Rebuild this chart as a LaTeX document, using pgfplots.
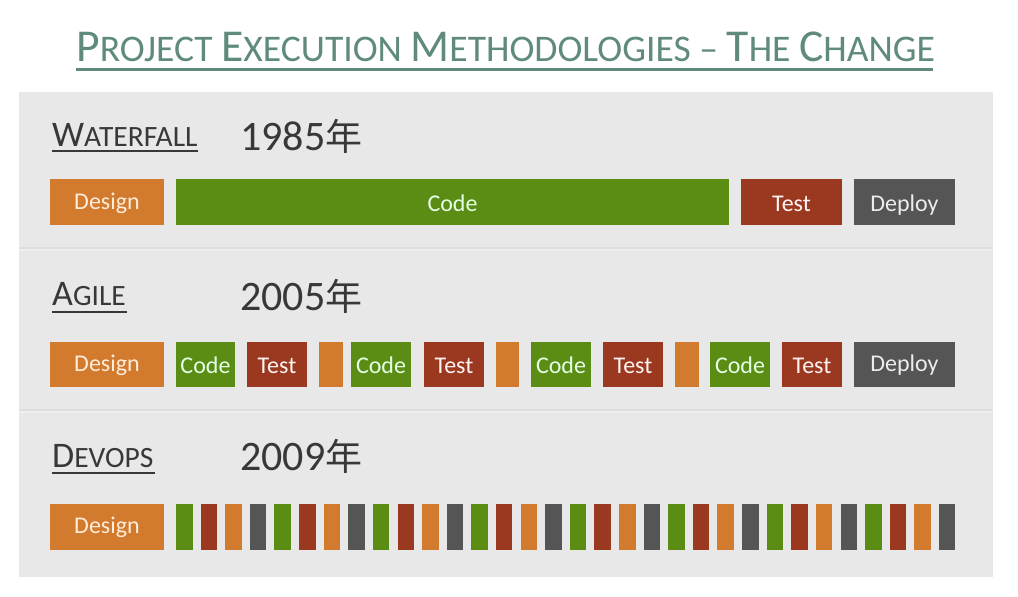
\documentclass[border=0pt]{standalone}
\usepackage{pgfplots}
\pgfplotsset{compat=1.18}
\usepackage{fontspec}
\setmainfont{Carlito}
\newfontfamily\cjk{Noto Sans CJK SC}
\definecolor{cO}{HTML}{D27A2E}
\definecolor{cG}{HTML}{5B8C14}
\definecolor{cR}{HTML}{9B3920}
\definecolor{cK}{HTML}{555555}
\definecolor{panel}{HTML}{E8E8E8}
\definecolor{sep}{HTML}{DEDEDE}
\definecolor{sepl}{HTML}{EEEEEE}
\definecolor{ttl}{HTML}{5F8A7D}
\definecolor{hd}{HTML}{383838}
\newcommand\fs[1]{\fontsize{#1bp}{#1bp}\selectfont}
\newcommand\bx[5]{\addplot[fill=#5, draw=none, forget plot] coordinates {(#1,#3) (#2,#3) (#2,#4) (#1,#4)} -- cycle;}
\newcommand\hl[5]{\addplot[draw=#5, line width=#4bp, forget plot] coordinates {(#1,#3) (#2,#3)};}
% fake small caps
\newcommand\tsc[2]{{\fs{45.6}#1}{\fs{37.6}#2}}
\newcommand\hsc[2]{{\fs{36}#1}{\fs{29.5}#2}}
\begin{document}
\begin{tikzpicture}
\begin{axis}[width=1018bp, height=596bp, scale only axis, xmin=0, xmax=1018, ymin=0, ymax=596, y dir=reverse, hide axis, clip=false]
\path[use as bounding box] (rel axis cs:0,0) rectangle (rel axis cs:1,1);
% panels
\bx{19}{993}{92}{577}{panel}
\bx{19}{993}{246.5}{248.5}{sep}
\bx{19}{993}{248.5}{250.5}{sepl}
\bx{19}{993}{408.5}{410.5}{sep}
\bx{19}{993}{410.5}{412.5}{sepl}
% title
\node[anchor=base west, inner sep=0pt, text=ttl] at (axis cs:76,62) {\fs{37.6}\tsc{P}{ROJECT}\ \tsc{E}{XECUTION}\ \tsc{M}{ETHODOLOGIES}\ –\ \tsc{T}{HE}\ \tsc{C}{HANGE}};
\hl{76}{933}{70}{3}{ttl}
% section headings
\node[anchor=base west, inner sep=0pt, text=hd] at (axis cs:52,146) {\hsc{W}{ATERFALL}};
\hl{52}{198}{151}{2.5}{hd}
\node[anchor=base west, inner sep=0pt, text=hd] at (axis cs:52,305) {\hsc{A}{GILE}};
\hl{52}{127}{312}{2.5}{hd}
\node[anchor=base west, inner sep=0pt, text=hd] at (axis cs:52,467) {\hsc{D}{EVOPS}};
\hl{52}{155}{473}{2.5}{hd}
\node[anchor=base west, inner sep=0pt, text=hd] at (axis cs:240,150) {\fs{42}1985{\cjk\fs{37}年}};
\node[anchor=base west, inner sep=0pt, text=hd] at (axis cs:240,310) {\fs{42}2005{\cjk\fs{37}年}};
\node[anchor=base west, inner sep=0pt, text=hd] at (axis cs:240,470) {\fs{42}2009{\cjk\fs{37}年}};
% Waterfall
\bx{50}{164}{179}{225}{cO}
\bx{176}{729}{179}{225}{cG}
\bx{741}{842}{179}{225}{cR}
\bx{854}{955}{179}{225}{cK}
% Agile
\bx{50}{164}{342}{387}{cO}
\bx{176}{235}{342}{387}{cG}
\bx{247}{307}{342}{387}{cR}
\bx{319}{343}{342}{387}{cO}
\bx{351}{411}{342}{387}{cG}
\bx{424}{484}{342}{387}{cR}
\bx{496}{519}{342}{387}{cO}
\bx{531}{591}{342}{387}{cG}
\bx{603}{663}{342}{387}{cR}
\bx{675}{699}{342}{387}{cO}
\bx{710}{770}{342}{387}{cG}
\bx{782}{842}{342}{387}{cR}
\bx{854}{955}{342}{387}{cK}
% DevOps
\bx{50}{164}{504}{550}{cO}
\bx{176.0}{192.5}{504}{550}{cG}
\bx{200.6}{217.1}{504}{550}{cR}
\bx{225.2}{241.7}{504}{550}{cO}
\bx{249.8}{266.3}{504}{550}{cK}
\bx{274.4}{290.9}{504}{550}{cG}
\bx{299.1}{315.6}{504}{550}{cR}
\bx{323.7}{340.2}{504}{550}{cO}
\bx{348.3}{364.8}{504}{550}{cK}
\bx{372.9}{389.4}{504}{550}{cG}
\bx{397.5}{414.0}{504}{550}{cR}
\bx{422.1}{438.6}{504}{550}{cO}
\bx{446.7}{463.2}{504}{550}{cK}
\bx{471.3}{487.8}{504}{550}{cG}
\bx{495.9}{512.4}{504}{550}{cR}
\bx{520.5}{537.0}{504}{550}{cO}
\bx{545.2}{561.7}{504}{550}{cK}
\bx{569.8}{586.3}{504}{550}{cG}
\bx{594.4}{610.9}{504}{550}{cR}
\bx{619.0}{635.5}{504}{550}{cO}
\bx{643.6}{660.1}{504}{550}{cK}
\bx{668.2}{684.7}{504}{550}{cG}
\bx{692.8}{709.3}{504}{550}{cR}
\bx{717.4}{733.9}{504}{550}{cO}
\bx{742.0}{758.5}{504}{550}{cK}
\bx{766.6}{783.1}{504}{550}{cG}
\bx{791.3}{807.8}{504}{550}{cR}
\bx{815.9}{832.4}{504}{550}{cO}
\bx{840.5}{857.0}{504}{550}{cK}
\bx{865.1}{881.6}{504}{550}{cG}
\bx{889.7}{906.2}{504}{550}{cR}
\bx{914.3}{930.8}{504}{550}{cO}
\bx{938.9}{955.4}{504}{550}{cK}
% bar labels
\def\lab#1#2#3#4{\node[anchor=base, inner sep=0pt, text=#4] at (axis cs:#1,#2) {\fs{24}#3};}
\lab{107}{209}{Design}{orange!15!white}
\lab{452.5}{211}{Code}{green!10!white}
\lab{791.5}{211}{Test}{red!5!white}
\lab{904.5}{211}{Deploy}{gray!15!white}
\lab{107}{371}{Design}{orange!15!white}
\lab{205.5}{373}{Code}{green!10!white}
\lab{277}{373}{Test}{red!5!white}
\lab{381}{373}{Code}{green!10!white}
\lab{454}{373}{Test}{red!5!white}
\lab{561}{373}{Code}{green!10!white}
\lab{633}{373}{Test}{red!5!white}
\lab{740}{373}{Code}{green!10!white}
\lab{812}{373}{Test}{red!5!white}
\lab{904.5}{371}{Deploy}{gray!15!white}
\lab{107}{533}{Design}{orange!15!white}
\end{axis}
\end{tikzpicture}
\end{document}
